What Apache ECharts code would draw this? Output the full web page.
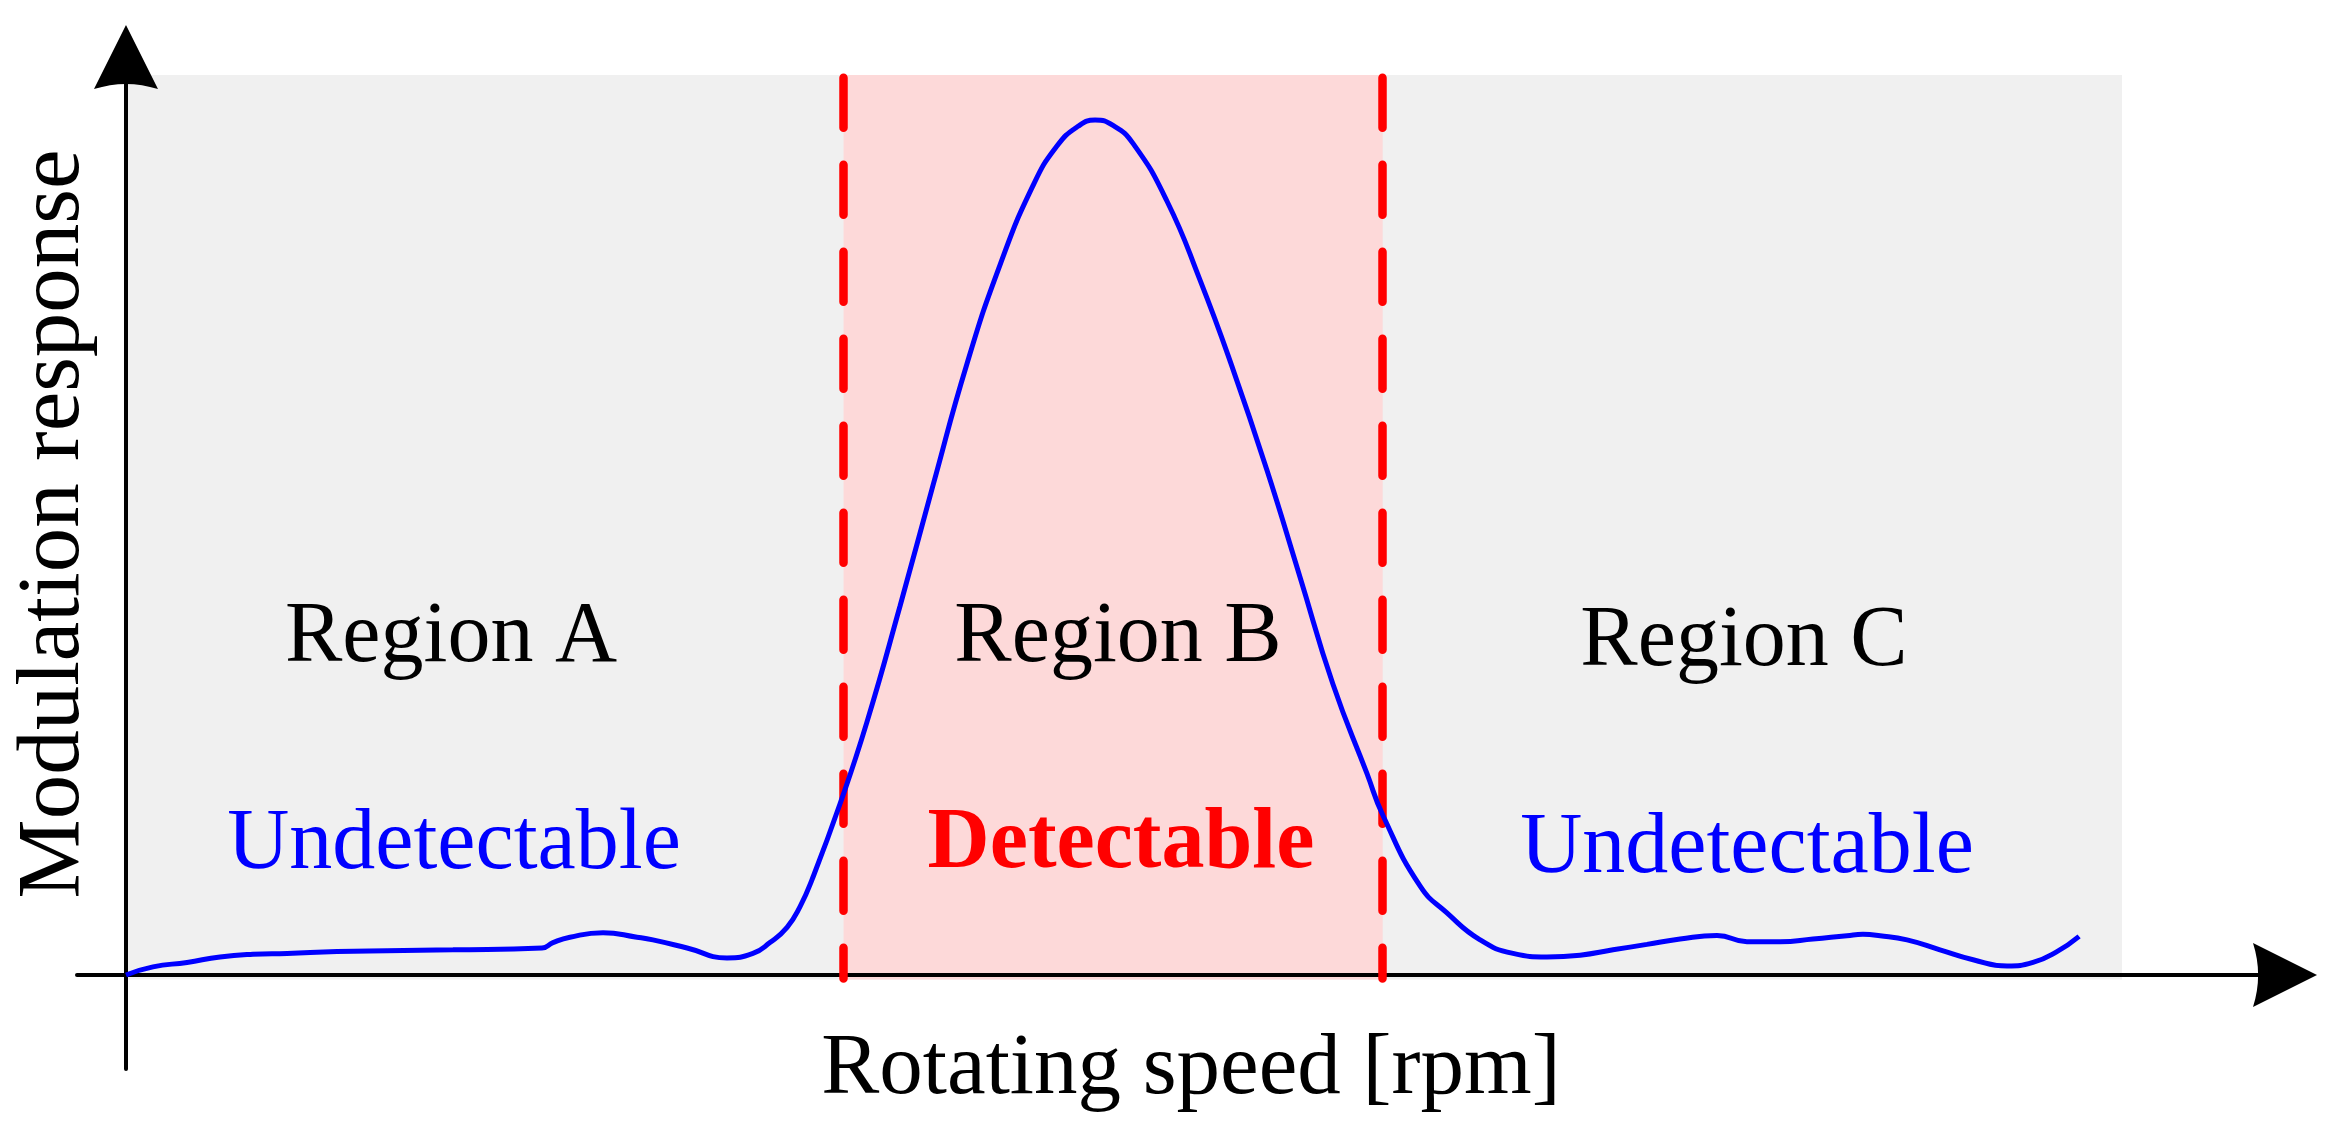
<!DOCTYPE html>
<html>
<head>
<meta charset="utf-8">
<script src="https://cdn.jsdelivr.net/npm/echarts@6/dist/echarts.min.js"></script>
<style>
  html, body { margin: 0; padding: 0; background: #ffffff; }
  #chart { width: 2335px; height: 1133px; }
</style>
</head>
<body>
<div id="chart"></div>
<script>
// ---- data (x: arbitrary rotating-speed units, y: arbitrary response units) ----
const speed = [0, 13.5, 30.6, 47.1, 63.6, 80.7, 105.7, 130.8, 163.8, 208.4, 213.9, 222.4, 239.0, 256.0, 264.0, 281.1, 301.1, 314.1, 322.6, 331.2, 337.7, 343.7, 357.7, 371.2, 387.8, 404.3, 421.3, 437.9, 454.4, 466.4, 477.0, 485.5, 494.5, 504.5, 521.5, 538.1, 554.6, 571.6, 588.2, 604.7, 621.7, 629.8, 648.3, 661.8, 678.4, 694.9, 711.9, 728.5, 745.0, 762.0, 778.6, 797.1, 812.1, 828.7, 845.2, 862.2, 870.2, 878.8, 892.3, 908.8, 925.4, 942.4, 955.4, 967.4, 978.5];
const response = [0, 0.9, 1.4, 2.0, 2.3, 2.4, 2.6, 2.7, 2.8, 3.0, 3.6, 4.2, 4.7, 4.2, 3.9, 3.0, 1.9, 2.4, 3.6, 5.3, 7.6, 10.6, 19.0, 28.1, 41.0, 54.4, 67.9, 78.9, 87.7, 92.1, 94.3, 95.0, 94.4, 92.4, 86.0, 77.2, 67.3, 56.1, 44.2, 32.3, 22.4, 17.7, 9.9, 6.9, 3.9, 2.4, 2.0, 2.2, 2.8, 3.4, 4.0, 4.4, 3.7, 3.7, 4.0, 4.37, 4.52, 4.37, 3.9, 2.8, 1.7, 1.0, 1.4, 2.6, 4.3];
const plotRange = [0, 1000];          // extent of the grey background
const detectRange = [359.5, 629.6];   // Region B boundaries
const responseTop = 100;
const regionNames = ['Region A', 'Region B', 'Region C'];
const stateNames = ['Undetectable', 'Detectable', 'Undetectable'];
const xTitle = 'Rotating speed [rpm]';
const yTitle = 'Modulation response';

const curve = speed.map((s, i) => [s, response[i]]);
const serif = '"Liberation Serif", "Times New Roman", serif';
const arrowPath = 'path://M50,0 L100,100 Q50,84 0,100 Z';

const chart = echarts.init(document.getElementById('chart'), null, { renderer: 'canvas' });

const option = {
  animation: false,
  backgroundColor: '#ffffff',
  grid: { left: 77, right: 50, top: 57, bottom: 64, containLabel: false },
  xAxis: {
    type: 'value', min: -24.549, max: 1081.66, z: 3,
    axisLine: { onZero: true, show: true, lineStyle: { color: '#000', width: 4 },
      symbol: ['none', arrowPath], symbolSize: [66, 64] },
    axisTick: { show: false }, axisLabel: { show: false }, splitLine: { show: false }
  },
  yAxis: {
    type: 'value', min: -10.444, max: 102.0, z: 3,
    axisLine: { onZero: true, show: true, lineStyle: { color: '#000', width: 4 },
      symbol: ['none', arrowPath], symbolSize: [66, 64] },
    axisTick: { show: false }, axisLabel: { show: false }, splitLine: { show: false }
  },
  series: [
    {
      type: 'line', z: 1, data: [], silent: true,
      markArea: {
        silent: true,
        data: [
          [{ coord: [plotRange[0], -0.5], itemStyle: { color: '#f0f0f0' } }, { coord: [plotRange[1], responseTop] }],
          [{ coord: [detectRange[0], -0.5], itemStyle: { color: '#fdd9d9' } }, { coord: [detectRange[1], responseTop] }]
        ]
      }
    },
    {
      type: 'line', z: 5, data: curve, smooth: 0.5, showSymbol: false, symbol: 'none',
      lineStyle: { color: '#0000ff', width: 5 }, silent: true
    },
    {
      type: 'line', z: 6, data: [], silent: true,
      markLine: {
        silent: true, symbol: ['none', 'none'],
        label: { show: false },
        lineStyle: { color: '#ff0000', width: 8.5, type: [50, 37], cap: 'round' },
        data: [
          [{ coord: [detectRange[0], 99.7] }, { coord: [detectRange[0], -0.4] }],
          [{ coord: [detectRange[1], 99.7] }, { coord: [detectRange[1], -0.4] }]
        ]
      }
    }
  ],
  graphic: [
    { type: 'text', x: 451, y: 638, z: 10, style: { text: regionNames[0], fontSize: 86, fontFamily: serif, fill: '#000', align: 'center', verticalAlign: 'middle' } },
    { type: 'text', x: 1118, y: 638, z: 10, style: { text: regionNames[1], fontSize: 86, fontFamily: serif, fill: '#000', align: 'center', verticalAlign: 'middle' } },
    { type: 'text', x: 1744, y: 642, z: 10, style: { text: regionNames[2], fontSize: 86, fontFamily: serif, fill: '#000', align: 'center', verticalAlign: 'middle' } },
    { type: 'text', x: 454, y: 845, z: 10, style: { text: stateNames[0], fontSize: 86, fontFamily: serif, fill: '#0000ff', align: 'center', verticalAlign: 'middle' } },
    { type: 'text', x: 1121, y: 845, z: 10, style: { text: stateNames[1], fontSize: 86, fontFamily: serif, fontWeight: 'bold', fill: '#ff0000', align: 'center', verticalAlign: 'middle' } },
    { type: 'text', x: 1747, y: 849, z: 10, style: { text: stateNames[2], fontSize: 86, fontFamily: serif, fill: '#0000ff', align: 'center', verticalAlign: 'middle' } },
    { type: 'text', x: 1191, y: 1070, z: 10, style: { text: xTitle, fontSize: 87, fontFamily: serif, fill: '#000', align: 'center', verticalAlign: 'middle' } },
    { type: 'text', x: 55, y: 524, rotation: Math.PI / 2, z: 10, style: { text: yTitle, fontSize: 89, fontFamily: serif, fill: '#000', align: 'center', verticalAlign: 'middle' } }
  ]
};
chart.setOption(option);
</script>
</body>
</html>
